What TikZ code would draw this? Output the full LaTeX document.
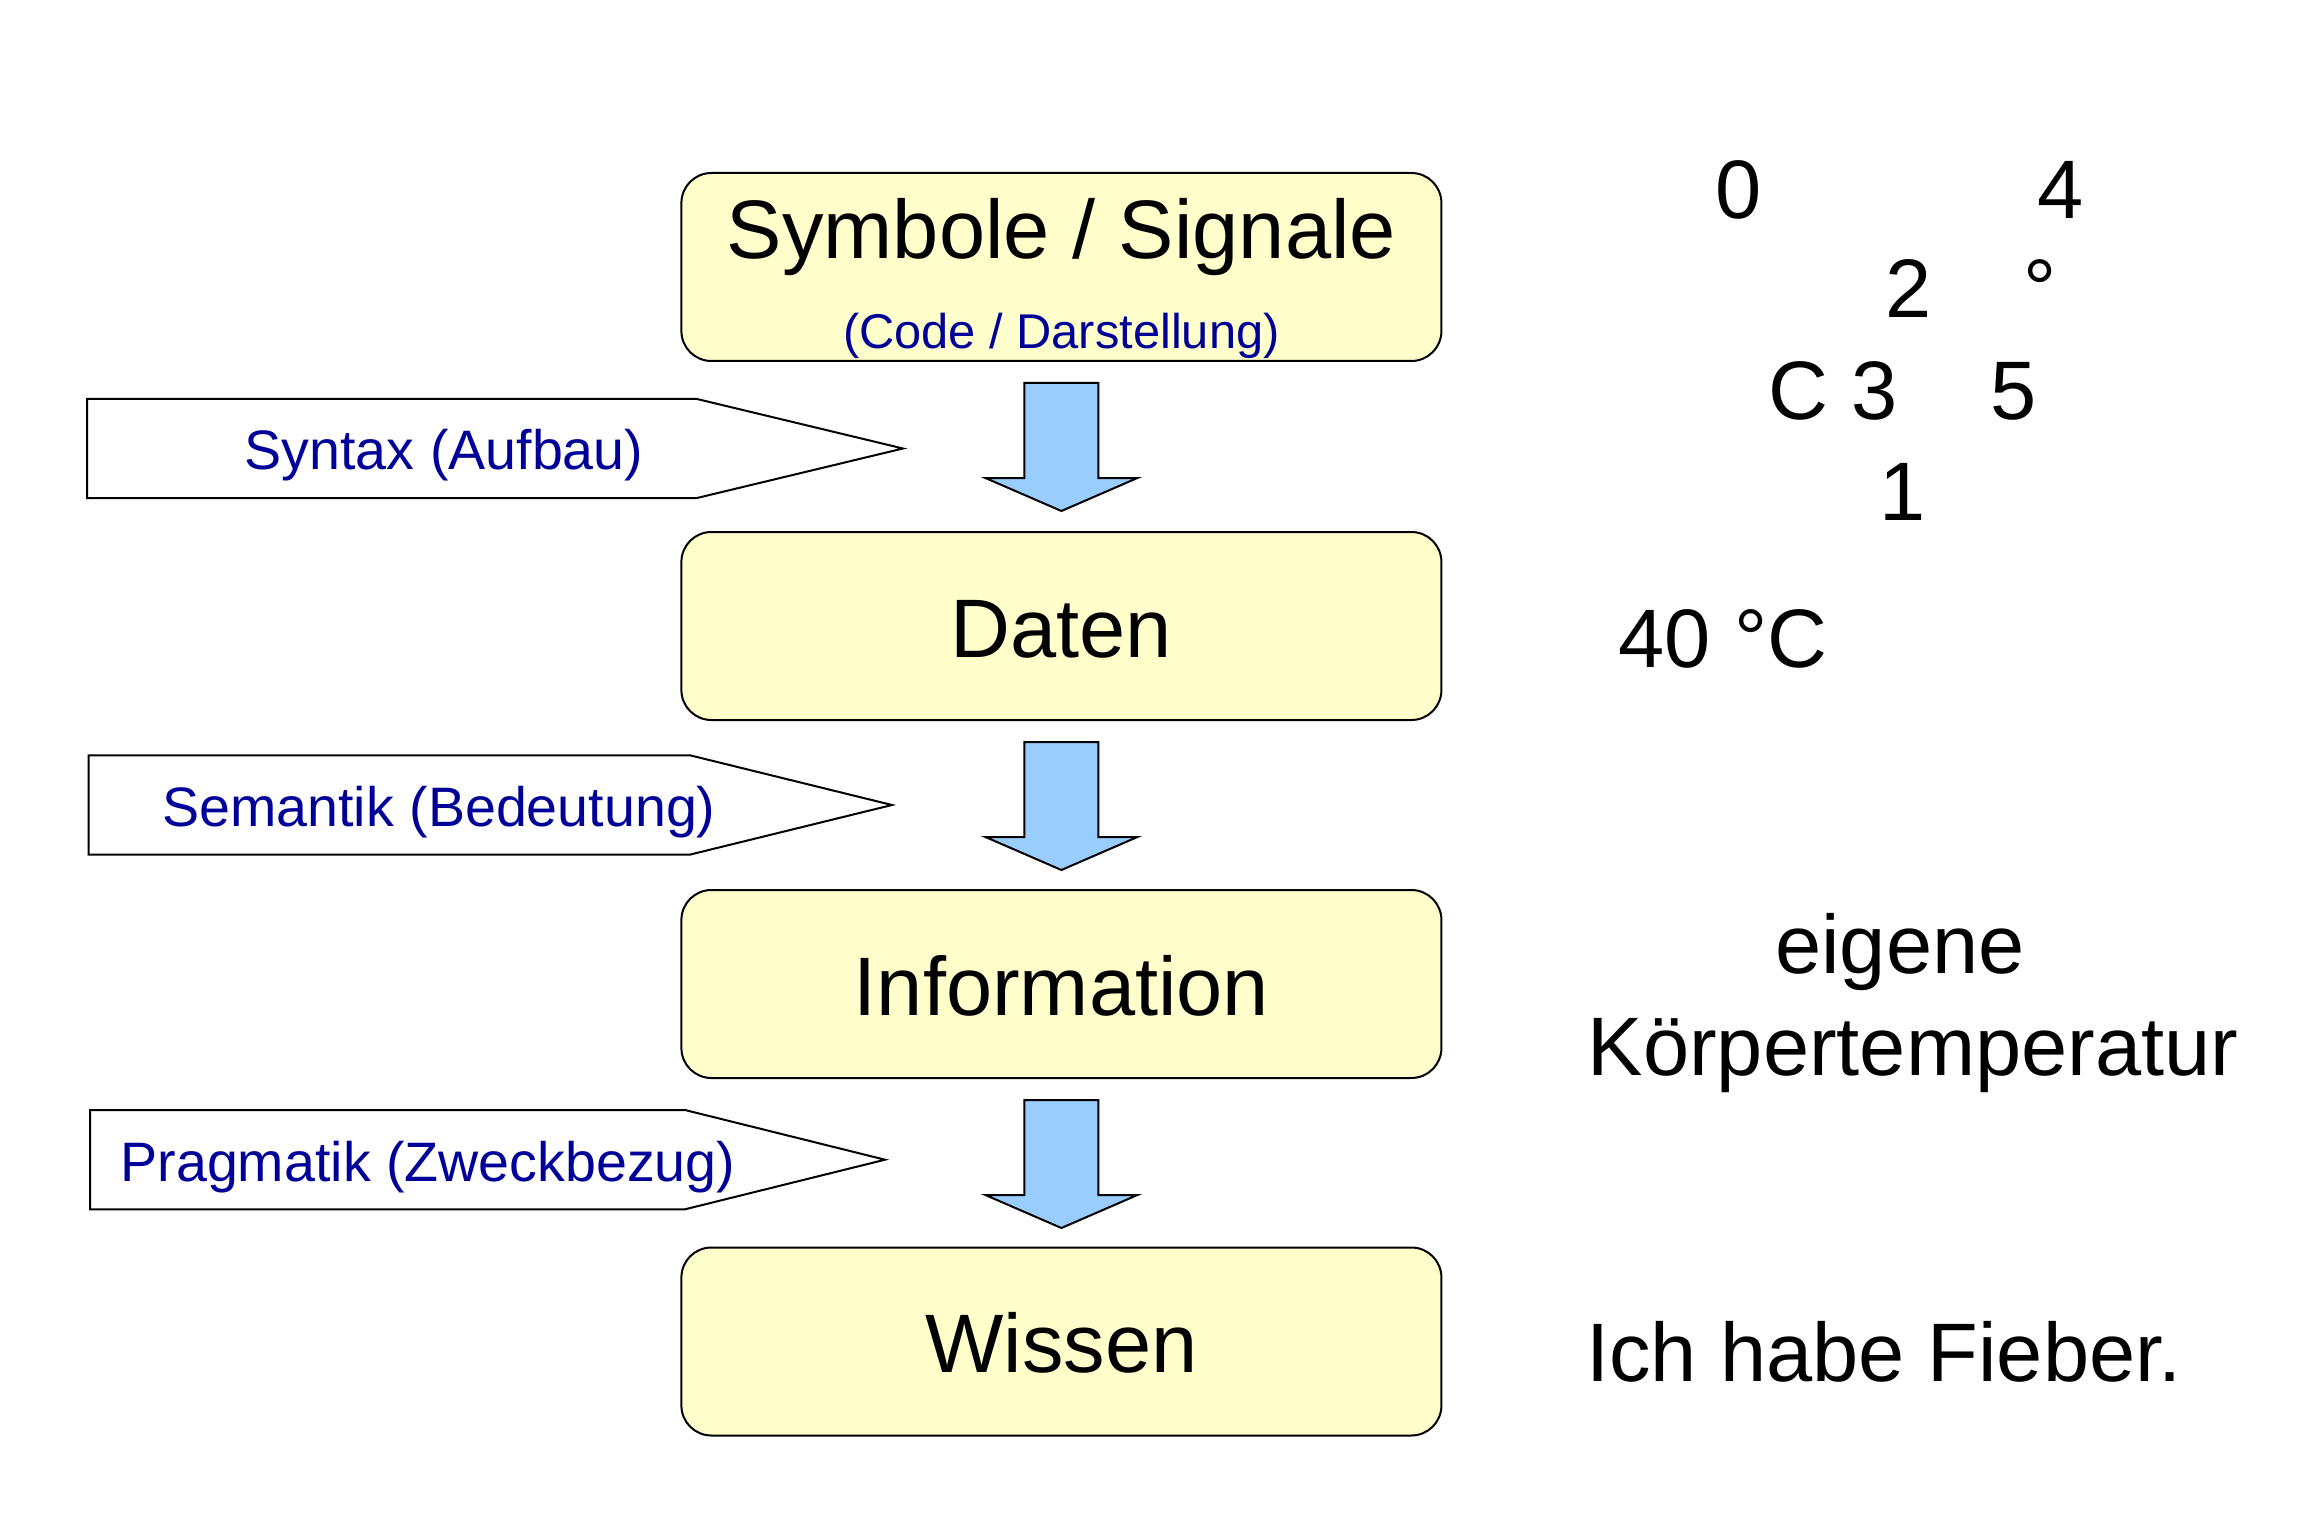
\documentclass[tikz,border=0pt]{standalone}
\usepackage{fontspec}
\setmainfont{Liberation Sans}
\usetikzlibrary{calc}
\definecolor{boxyellow}{RGB}{255,255,204}
\definecolor{arrowblue}{RGB}{153,204,255}
\definecolor{labelblue}{RGB}{0,0,153}
\begin{document}
\begin{tikzpicture}[x=0.5pt,y=-0.5pt,
  box/.style={draw=black, line width=1pt, fill=boxyellow, rounded corners=15pt,
    minimum width=380pt, minimum height=94pt, inner sep=0pt},
  maintext/.style={font=\fontsize{41.5}{48}\selectfont, anchor=base, inner sep=0pt},
  bluelabel/.style={font=\fontsize{27.8}{32}\selectfont, text=labelblue, anchor=base, inner sep=0pt},
  codelabel/.style={font=\fontsize{24.4}{28}\selectfont, text=labelblue, anchor=base, inner sep=0pt},
  pentagon/.style={draw=black, line width=1pt, fill=white, line join=miter},
  blockarrow/.style={draw=black, line width=1pt, fill=arrowblue, line join=miter}
]
\useasboundingbox (0,0) rectangle (2318,1524);

% boxes
\node[box] (b1) at (1061.4,267) {};
\node[box] (b2) at (1061.4,626) {};
\node[box] (b3) at (1061.4,984) {};
\node[box] (b4) at (1061.4,1341.5) {};

\node[maintext] (t1) at (1061.4,259) {Symbole / Signale};
\node[codelabel] (t1b) at (1061.4,349) {(Code / Darstellung)};
\node[maintext] (t2) at (1061.4,657) {Daten};
\node[maintext] (t3) at (1061.4,1015) {Information};
\node[maintext] (t4) at (1061.4,1372) {Wissen};

% block arrows
\foreach \b in {b1,b2,b3} {
  \draw[blockarrow] ($(\b.south)+(-37,21)$) -- ($(\b.south)+(37,21)$)
    -- ($(\b.south)+(37,116)$) -- ($(\b.south)+(76,116)$)
    -- ($(\b.south)+(0,149)$) -- ($(\b.south)+(-76,116)$)
    -- ($(\b.south)+(-37,116)$) -- cycle;
}

% left pentagons
\draw[pentagon] (87.2,399) -- (697,399) -- (903,448.5) -- (697,498) -- (87.2,498) -- cycle;
\draw[pentagon] (88.7,755.4) -- (690.4,755.4) -- (892,805) -- (690.4,854.5) -- (88.7,854.5) -- cycle;
\draw[pentagon] (90.2,1110) -- (685,1110) -- (885,1159.7) -- (685,1209.3) -- (90.2,1209.3) -- cycle;

\node[bluelabel] (l1) at (444,470) {Syntax (Aufbau)};
\node[bluelabel] (l2) at (439,826) {Semantik (Bedeutung)};
\node[bluelabel] (l3) at (428,1181) {Pragmatik (Zweckbezug)};

% right side
\node[maintext] (d0) at (1738.5,219) {0};
\node[maintext] (d4) at (2060.7,219) {4};
\node[maintext] (d2) at (1908.5,318) {2};
\node[maintext] (dg) at (2040,318) {°};
\node[maintext] (dc) at (1798.5,420) {C};
\node[maintext] (d3) at (1875,420) {3};
\node[maintext] (d5) at (2013.5,420) {5};
\node[maintext] (d1) at (1902.6,520) {1};

\node[maintext] (r1) at (1723,667) {40 °C};
\node[maintext] (r2) at (1900,973) {eigene};
\node[maintext] (r3) at (1913,1075) {Körpertemperatur};
\node[maintext] (r4) at (1884,1381) {Ich habe Fieber.};
\end{tikzpicture}
\end{document}
